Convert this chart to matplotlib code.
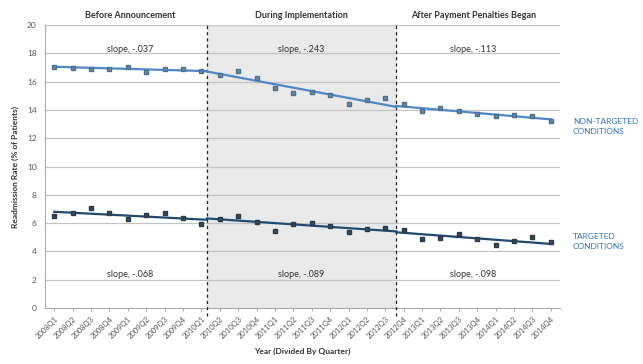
import matplotlib.pyplot as plt
import numpy as np

plt.rcParams['font.family'] = ['Lato', 'DejaVu Sans']

# quarters 2008Q1 .. 2014Q4
quarters = [f'{y}Q{q}' for y in range(2008, 2015) for q in range(1, 5)]

non_targeted = [17.06, 17.00, 16.90, 16.90, 17.06, 16.65, 16.90, 16.90, 16.78,
                16.47, 16.78, 16.28, 15.53, 15.17, 15.29, 15.05, 14.42, 14.70,
                14.86, 14.40, 13.92, 14.11, 13.92, 13.69, 13.57, 13.64, 13.60,
                13.22]
targeted = [6.52, 6.69, 7.04, 6.69, 6.27, 6.57, 6.69, 6.34, 5.94,
            6.29, 6.52, 6.10, 5.44, 5.92, 6.03, 5.82, 5.35, 5.56,
            5.63, 5.51, 4.85, 4.92, 5.20, 4.85, 4.45, 4.76, 5.04,
            4.69]

periods = ['Before Announcement', 'During Implementation',
           'After Payment Penalties Began']
# first index of each period (last one closes the range)
period_start = [0, 9, 19, 28]
nt_slopes = [-0.037, -0.243, -0.113]
t_slopes = [-0.068, -0.089, -0.098]

# where the dashed period dividers sit on the category axis
dividers = [8.3, 18.6]

x = np.arange(len(quarters))
fig = plt.figure(figsize=(6.43, 3.64), dpi=100)
ax = fig.add_axes([0.070, 0.154, 0.801, 0.777])

ax.axvspan(dividers[0], dividers[1], color='#e9e9e9', zorder=0)
for d in dividers:
    ax.axvline(d, ymin=-0.03, ymax=1.0, color='#222222', lw=0.9,
               ls=(0, (2.5, 2.5)), zorder=3, clip_on=False)

for yv in range(2, 21, 2):
    ax.axhline(yv, color='#c4c4c4', lw=0.9, zorder=1)

bounds = [0] + dividers + [len(quarters) - 1]


def trend(series, slopes, color):
    y = np.array(series)
    for i, s in enumerate(slopes):
        idx = x[period_start[i]:period_start[i + 1]]
        b = np.mean(y[idx] - s * idx)
        xs = np.array([bounds[i], bounds[i + 1]])
        ax.plot(xs, b + s * xs, color=color, lw=1.6, zorder=4)


trend(non_targeted, nt_slopes, '#4f86c6')
trend(targeted, t_slopes, '#1f4a6e')
ax.plot(x, non_targeted, 's', ms=3.3, color='#6688a6', mec='#4d7191', zorder=5)
ax.plot(x, targeted, 's', ms=3.3, color='#34495a', mec='#2a3a48', zorder=5)

ax.set_xlim(-0.5, len(quarters) - 0.5)
ax.set_ylim(0, 20)
ax.set_yticks(range(0, 21, 2))
ax.set_xticks(x)
ax.set_xticklabels(quarters, rotation=45, ha='right', rotation_mode='anchor',
                   fontsize=5.5, color='#555555')
ax.tick_params(axis='y', labelsize=6, colors='#555555', length=0, pad=6)
ax.tick_params(axis='x', length=2, color='#aaaaaa', pad=3)
for side in ['top', 'right']:
    ax.spines[side].set_visible(False)
ax.spines['left'].set_color('#aaaaaa')
ax.spines['bottom'].set_color('#aaaaaa')

mids = [(bounds[i] + bounds[i + 1]) / 2 for i in range(3)]
for m, name, s1, s2 in zip(mids, periods, nt_slopes, t_slopes):
    ax.text(m, 20.35, name, ha='center', va='bottom', fontsize=6.5,
            fontweight='bold', color='#333333')
    ax.text(m, 18.3, 'slope, ' + f'{s1:.3f}'.replace('0.', '.'),
            ha='center', va='center', fontsize=6.5, color='#333333')
    ax.text(m, 2.4, 'slope, ' + f'{s2:.3f}'.replace('0.', '.'),
            ha='center', va='center', fontsize=6.5, color='#333333')

ax.text(1.025, 0.64, 'NON-TARGETED\nCONDITIONS', transform=ax.transAxes,
        ha='left', va='center', fontsize=6, color='#2e75b6', linespacing=1.5)
ax.text(1.025, 0.235, 'TARGETED\nCONDITIONS', transform=ax.transAxes,
        ha='left', va='center', fontsize=6, color='#2e75b6', linespacing=1.5)

ax.set_ylabel('Readmission Rate (% of Patients)', fontsize=6,
              fontweight='bold', color='#333333', labelpad=6)
ax.set_xlabel('Year (Divided By Quarter)', fontsize=6, fontweight='bold',
              color='#333333', labelpad=6)

fig.savefig('out.png', dpi=100)
